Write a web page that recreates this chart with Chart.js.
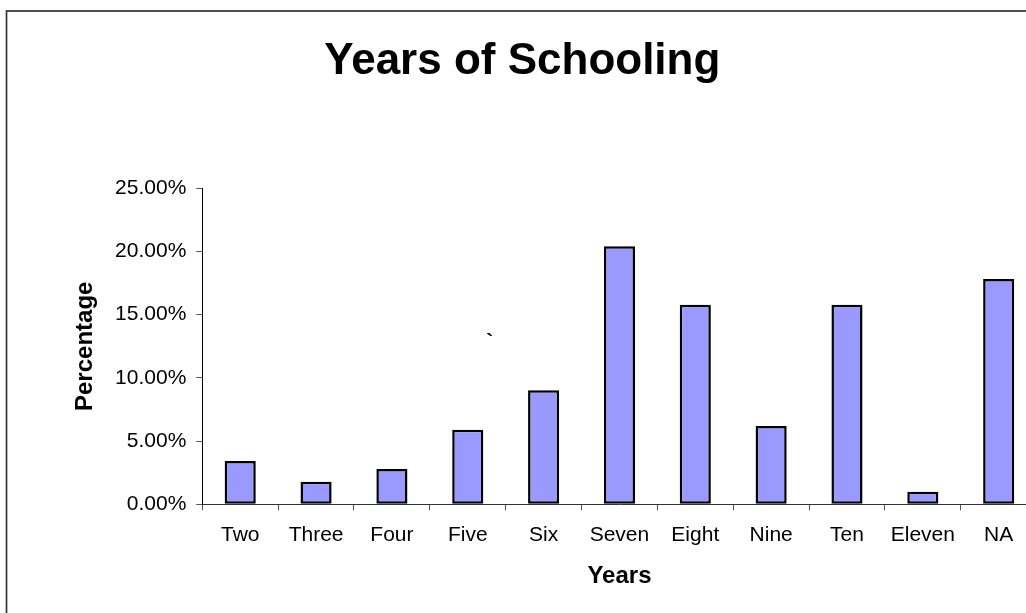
<!DOCTYPE html>
<html lang="en">
<head>
    <meta charset="UTF-8">
    <title>Years of Schooling</title>
    <style>
        body {
            margin: 0;
            padding: 0;
            background: white;
            overflow: hidden;
        }

        #chart {
            display: block;
        }
    </style>
</head>
<body>
    <canvas id="chart" width="1045" height="613"></canvas>

    <script src="https://cdn.jsdelivr.net/npm/chart.js"></script>
    <script>
        const categories = ['Two', 'Three', 'Four', 'Five', 'Six', 'Seven', 'Eight', 'Nine', 'Ten', 'Eleven', 'NA'];
        const percentages = [3.43, 1.79, 2.79, 5.9, 9.02, 20.41, 15.79, 6.19, 15.79, 1.0, 17.82];
        const yTicks = { min: 0, max: 25, step: 5 };

        const FONT = 'Arial, "Liberation Sans", sans-serif';

        // outer frame of the chart (right and bottom edges fall outside the picture)
        const framePlugin = {
            id: 'frame',
            beforeDraw(chart) {
                const ctx = chart.ctx;
                ctx.save();
                ctx.fillStyle = 'white';
                ctx.fillRect(0, 0, chart.width, chart.height);
                ctx.strokeStyle = '#333';
                ctx.lineWidth = 1.7;
                ctx.strokeRect(6.5, 11, 2000, 2000);
                ctx.restore();
            }
        };

        // stray backtick that sits in the plot area of the original
        const strayMarkPlugin = {
            id: 'strayMark',
            afterDraw(chart) {
                const ctx = chart.ctx;
                const x = chart.scales.x.getPixelForValue(3.29);
                const y = chart.scales.y.getPixelForValue(12.85);
                ctx.save();
                ctx.fillStyle = 'black';
                ctx.font = 'bold 21px ' + FONT;
                ctx.textAlign = 'center';
                ctx.textBaseline = 'middle';
                ctx.fillText('`', x, y);
                ctx.restore();
            }
        };

        new Chart(document.getElementById('chart'), {
            type: 'bar',
            data: {
                labels: categories,
                datasets: [{
                    label: 'Percentage',
                    data: percentages,
                    backgroundColor: '#9999FF',
                    borderColor: '#000',
                    borderWidth: 2.5,
                    borderSkipped: false,
                    barPercentage: 0.41,
                    categoryPercentage: 1.0
                }]
            },
            options: {
                responsive: false,
                animation: false,
                layout: { padding: { left: 8, right: 8.4, top: 0, bottom: 0 } },
                plugins: {
                    legend: { display: false },
                    tooltip: { enabled: false },
                    title: {
                        display: true,
                        text: 'Years of Schooling',
                        color: '#000',
                        font: { family: FONT, size: 44, weight: 'bold' },
                        padding: { top: 35, bottom: 100.5 }
                    }
                },
                scales: {
                    x: {
                        afterFit(scale) { scale.height = 108.7; },
                        border: { display: true, color: '#333', width: 1 },
                        grid: { display: true, drawOnChartArea: false, drawTicks: true, tickLength: 6, color: '#555' },
                        ticks: { color: '#000', font: { family: FONT, size: 21 }, padding: 12, maxRotation: 0, autoSkip: false },
                        title: {
                            display: true,
                            text: 'Years',
                            color: '#000',
                            font: { family: FONT, size: 24, weight: 'bold' },
                            padding: { top: 0, bottom: 22 }
                        }
                    },
                    y: {
                        min: yTicks.min,
                        max: yTicks.max,
                        afterFit(scale) { scale.width = 194.3; },
                        border: { display: true, color: '#000', width: 1 },
                        grid: { display: true, drawOnChartArea: false, drawTicks: true, tickLength: 6, color: '#555' },
                        ticks: {
                            stepSize: yTicks.step,
                            color: '#000',
                            font: { family: FONT, size: 21 },
                            padding: 10,
                            callback: v => v.toFixed(2) + '%'
                        },
                        title: {
                            display: true,
                            text: 'Percentage',
                            color: '#000',
                            font: { family: FONT, size: 24, weight: 'bold' },
                            padding: { top: 63, bottom: 0 }
                        }
                    }
                }
            },
            plugins: [framePlugin, strayMarkPlugin]
        });
    </script>
</body>
</html>
